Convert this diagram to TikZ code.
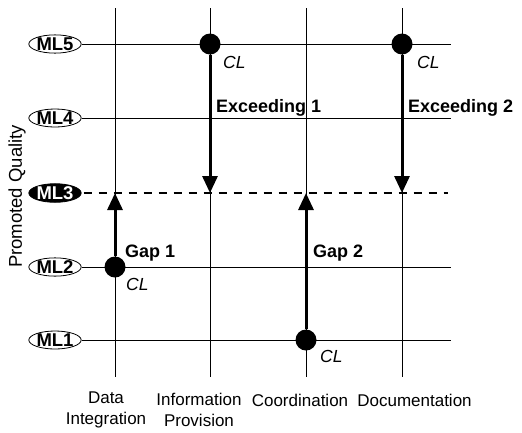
\documentclass[tikz,border=0pt]{standalone}
\usepackage{fontspec}
\setmainfont{Liberation Sans}
\usetikzlibrary{shapes.geometric,arrows.meta}
\begin{document}
\begin{tikzpicture}[x=1pt,y=-1pt,
  txt/.style={font=\fontsize{17}{21}\selectfont, inner sep=0pt},
  lbl/.style={txt, font=\fontsize{18}{21}\selectfont\bfseries, anchor=west},
  cl/.style={txt, font=\fontsize{17.5}{21}\selectfont\itshape, anchor=west},
  mlbox/.style={ellipse, draw, line width=0.8pt, minimum width=44pt, minimum height=15pt,
    inner sep=0pt, font=\fontsize{18.5}{18}\selectfont\bfseries},
  mlhi/.style={mlbox, fill=black, text=white},
  grid/.style={line width=0.8pt},
  level/.style={line width=2pt, dash pattern=on 8pt off 7pt},
  dot/.style={circle, fill=black, minimum size=21pt, inner sep=0pt},
  arr/.style={line width=3pt, -{Triangle[width=15pt,length=17pt]}}]
\useasboundingbox (0,0) rectangle (522,432);

% maturity levels on the left
\node[mlbox] (ml5) at (55,44) {ML5};
\node[mlbox] (ml4) at (55,118) {ML4};
\node[mlhi]  (ml3) at (55,193) {ML3};
\node[mlbox] (ml2) at (55,267) {ML2};
\node[mlbox] (ml1) at (55,340) {ML1};

% right ends of the level lines
\coordinate (e5) at (451,44);
\coordinate (e4) at (451,118);
\coordinate (e3) at (448,193);
\coordinate (e2) at (451,267);
\coordinate (e1) at (451,340);

% column lines
\foreach \n/\x in {a/115,b/210,c/306,d/402}{
  \coordinate (\n top) at (\x,8);
  \coordinate (\n bot) at (\x,377);
  \coordinate (\n3) at (\x,193);
  \draw[grid] (\n top) -- (\n bot);
}

\draw[grid] (ml5) -- (e5);
\draw[grid] (ml4) -- (e4);
\draw[grid] (ml2) -- (e2);
\draw[grid] (ml1) -- (e1);
\draw[level] (ml3.east) ++(2,0) coordinate (s3) (s3) -- (e3);

% current levels
\node[dot] (p1) at (115,267) {};
\node[dot] (p2) at (210,44) {};
\node[dot] (p3) at (306,340) {};
\node[dot] (p4) at (402,44) {};

\node[cl] at (126,284) {CL};
\node[cl] at (223,62) {CL};
\node[cl] at (320,356) {CL};
\node[cl] at (417,62) {CL};

% gaps and exceedings
\draw[arr] (p1) -- (a3);
\draw[arr] (p2) -- (b3);
\draw[arr] (p3) -- (c3);
\draw[arr] (p4) -- (d3);

\node[lbl] at (125,253) {Gap 1};
\node[lbl] at (313,253) {Gap 2};
\node[lbl] at (216,108) {Exceeding 1};
\node[lbl] at (408,108) {Exceeding 2};

% axis title
\node[txt, font=\fontsize{18.5}{21}\selectfont, rotate=90] (yt) at (17,196.5) {Promoted Quality};

% process areas
\node[txt, align=center] (c1) at (106,410) {Data\\Integration};
\node[txt, align=center] (c2) at (199,410) {Information\\Provision};
\node[txt] (c3) at (300,400) {Coordination};
\node[txt] (c4) at (414.5,400) {Documentation};
\end{tikzpicture}
\end{document}
